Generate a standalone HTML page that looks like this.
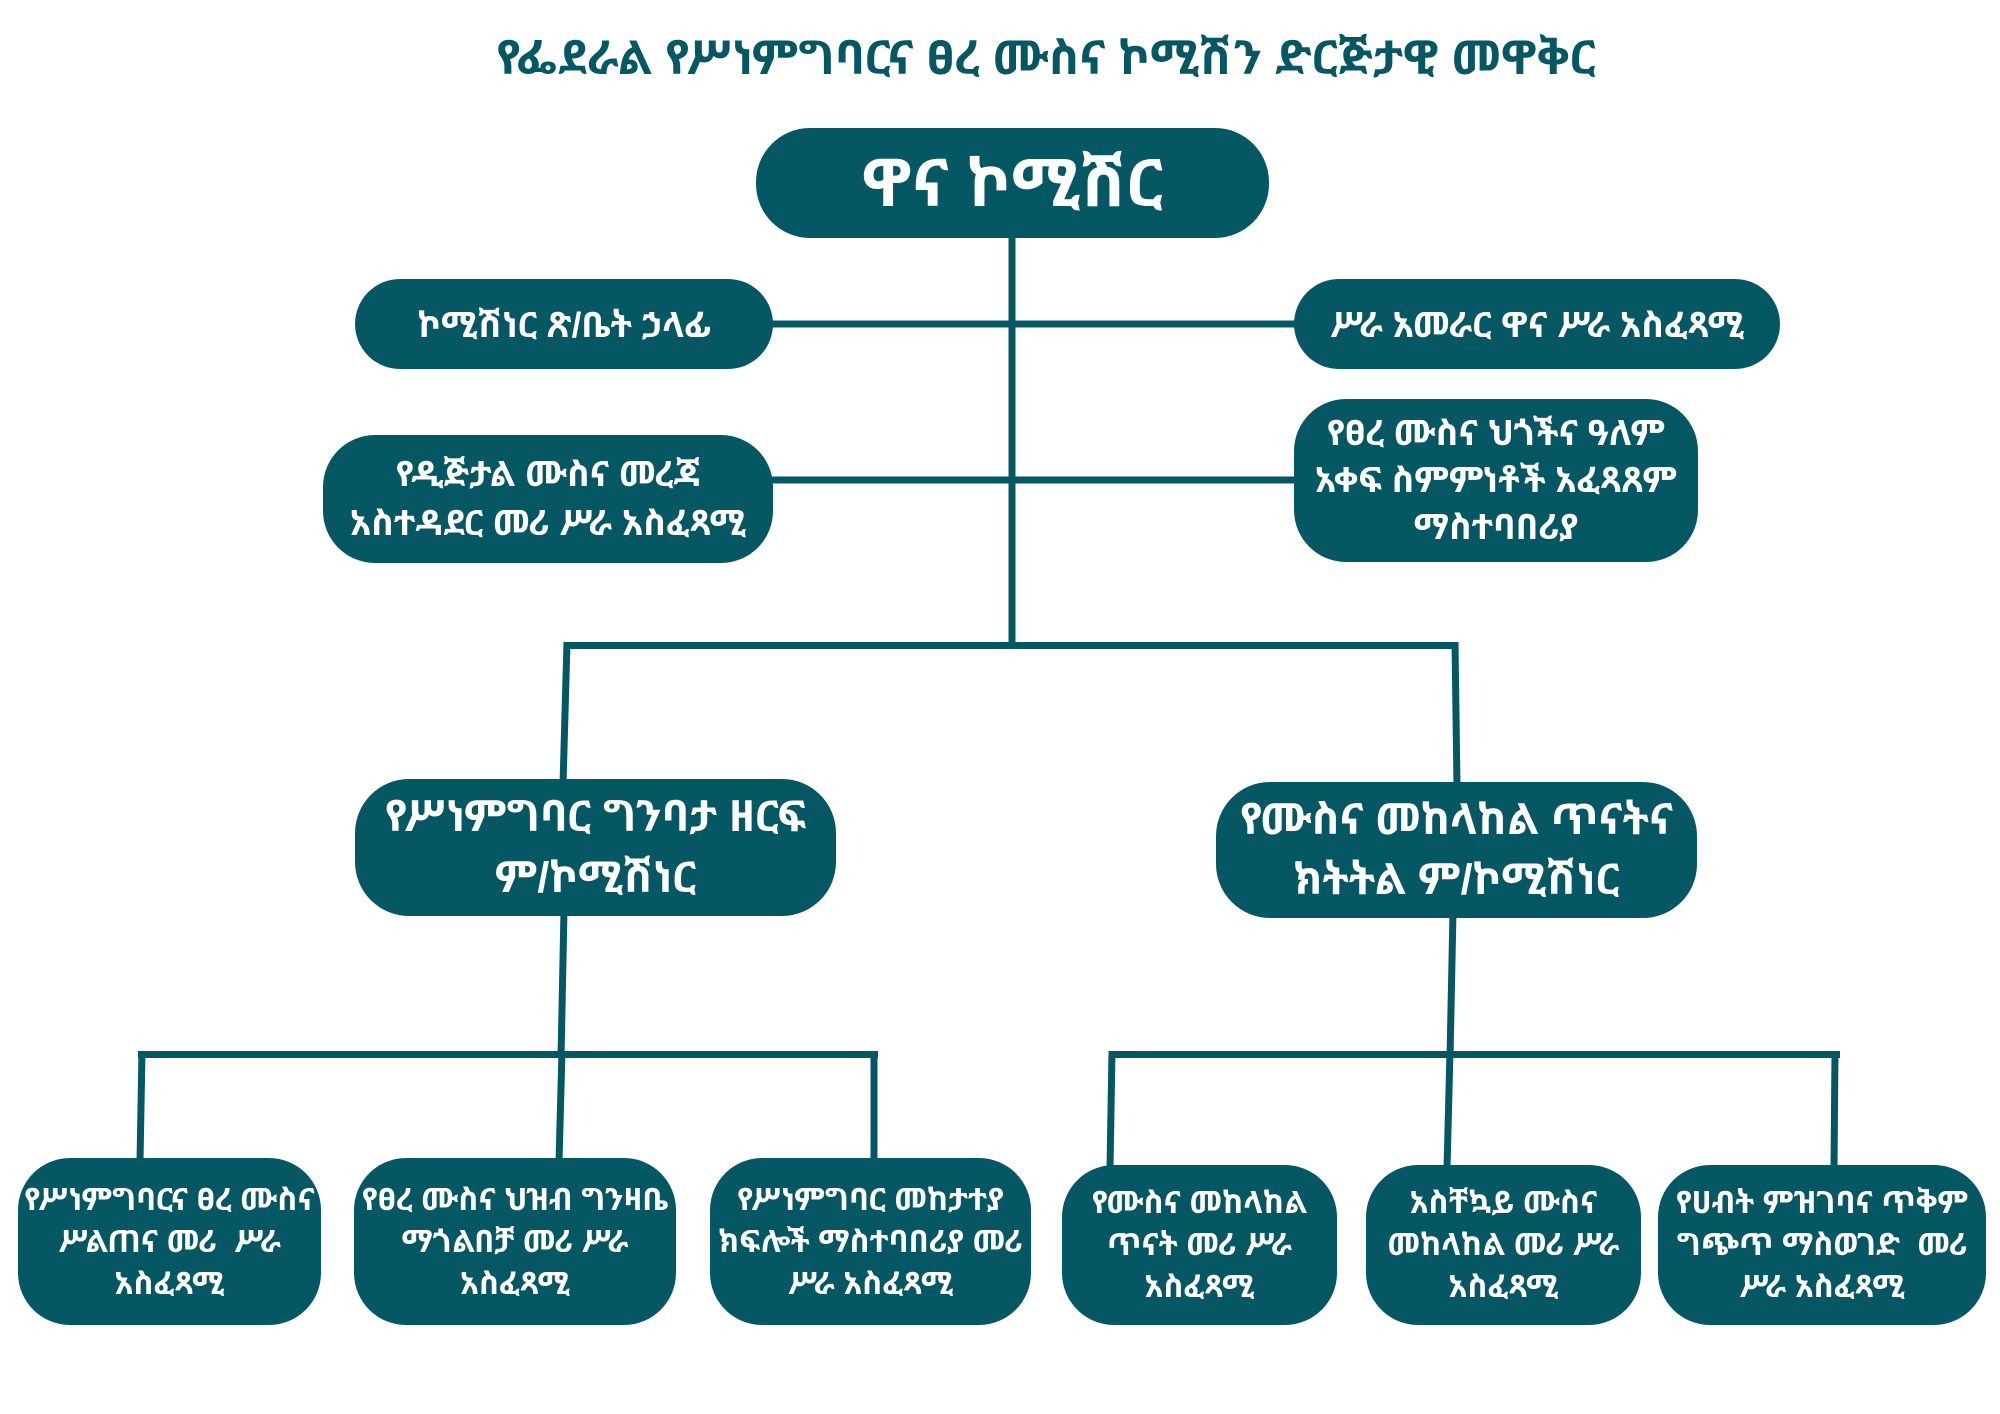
<!DOCTYPE html>
<html>
<head>
<meta charset="utf-8">
<style>
  html, body { margin: 0; padding: 0; background: #ffffff; }
  body { width: 2000px; height: 1414px; position: relative; overflow: hidden;
         font-family: "Liberation Sans", "Noto Sans Ethiopic", "Abyssinica SIL", "FreeSerif", "DejaVu Sans", "Noto Sans CJK SC", sans-serif; }
  .title { position: absolute; left: 46px; width: 2000px; top: 28px; text-align: center;
           color: #055863; font-weight: bold; font-size: 47px; line-height: 60px; white-space: nowrap; }
  .box { position: absolute; background: #055863; color: #ffffff; font-weight: bold;
         display: flex; align-items: center; justify-content: center; text-align: center;
         white-space: nowrap; box-sizing: border-box; }
  svg { position: absolute; left: 0; top: 0; }
</style>
</head>
<body>
<div class="title">የፌደራል የሥነምግባርና ፀረ ሙስና ኮሚሽን ድርጅታዊ መዋቅር</div>

<svg width="2000" height="1414" viewBox="0 0 2000 1414">
  <g stroke="#055863" stroke-width="7" fill="none" stroke-linecap="butt">
    <line x1="1012" y1="230" x2="1012" y2="649"/>
    <line x1="765" y1="324" x2="1300" y2="324"/>
    <line x1="765" y1="480" x2="1300" y2="480"/>
    <line x1="564" y1="645.5" x2="1458" y2="645.5"/>
    <line x1="567" y1="642" x2="563" y2="785"/>
    <line x1="1455" y1="642" x2="1457" y2="787"/>
    <line x1="564" y1="910" x2="561" y2="1058"/>
    <line x1="1453" y1="912" x2="1450" y2="1058"/>
    <line x1="138" y1="1054.5" x2="878" y2="1054.5"/>
    <line x1="142" y1="1051" x2="140" y2="1162"/>
    <line x1="562" y1="1051" x2="559" y2="1162"/>
    <line x1="874" y1="1051" x2="874" y2="1162"/>
    <line x1="1109" y1="1054.5" x2="1840" y2="1054.5"/>
    <line x1="1112" y1="1051" x2="1110" y2="1169"/>
    <line x1="1450" y1="1051" x2="1447" y2="1169"/>
    <line x1="1835" y1="1051" x2="1834" y2="1169"/>
  </g>
</svg>

<div class="box" style="left:756px;top:128px;width:513px;height:110px;border-radius:54px;font-size:66px;line-height:80px;">ዋና ኮሚሽር</div>

<div class="box" style="left:355px;top:279px;width:418px;height:90px;border-radius:45px;font-size:35px;">ኮሚሽነር ጽ/ቤት ኃላፊ</div>
<div class="box" style="left:1294px;top:279px;width:486px;height:90px;border-radius:45px;font-size:35px;">ሥራ አመራር ዋና ሥራ አስፈጻሚ</div>

<div class="box" style="left:323px;top:435px;width:450px;height:128px;border-radius:52px;font-size:35px;line-height:49px;">የዲጅታል ሙስና መረጃ<br>አስተዳደር መሪ ሥራ አስፈጻሚ</div>
<div class="box" style="left:1294px;top:399px;width:404px;height:163px;border-radius:52px;font-size:35px;line-height:47px;">የፀረ ሙስና ህጎችና ዓለም<br>አቀፍ ስምምነቶች አፈጻጸም<br>ማስተባበሪያ</div>

<div class="box" style="left:355px;top:779px;width:481px;height:137px;border-radius:54px;font-size:43px;line-height:61px;">የሥነምግባር ግንባታ ዘርፍ<br>ም/ኮሚሽነር</div>
<div class="box" style="left:1216px;top:782px;width:481px;height:136px;border-radius:54px;font-size:43px;line-height:60px;">የሙስና መከላከል ጥናትና<br>ክትትል ም/ኮሚሽነር</div>

<div class="box" style="left:18px;top:1158px;width:303px;height:167px;border-radius:52px;font-size:31px;line-height:42px;">የሥነምግባርና ፀረ ሙስና<br>ሥልጠና መሪ&nbsp; ሥራ<br>አስፈጻሚ</div>
<div class="box" style="left:354px;top:1158px;width:322px;height:167px;border-radius:52px;font-size:31px;line-height:42px;">የፀረ ሙስና ህዝብ ግንዛቤ<br>ማጎልበቻ መሪ ሥራ<br>አስፈጻሚ</div>
<div class="box" style="left:710px;top:1158px;width:321px;height:167px;border-radius:52px;font-size:31px;line-height:42px;">የሥነምግባር መከታተያ<br>ክፍሎች ማስተባበሪያ መሪ<br>ሥራ አስፈጻሚ</div>

<div class="box" style="left:1062px;top:1165px;width:275px;height:160px;border-radius:52px;font-size:31px;line-height:42px;">የሙስና መከላከል<br>ጥናት መሪ ሥራ<br>አስፈጻሚ</div>
<div class="box" style="left:1366px;top:1165px;width:275px;height:160px;border-radius:52px;font-size:31px;line-height:42px;">አስቸኳይ ሙስና<br>መከላከል መሪ ሥራ<br>አስፈጻሚ</div>
<div class="box" style="left:1658px;top:1165px;width:328px;height:160px;border-radius:52px;font-size:31px;line-height:42px;">የሀብት ምዝገባና ጥቅም<br>ግጭጥ ማስወገድ&nbsp; መሪ<br>ሥራ አስፈጻሚ</div>
</body>
</html>
